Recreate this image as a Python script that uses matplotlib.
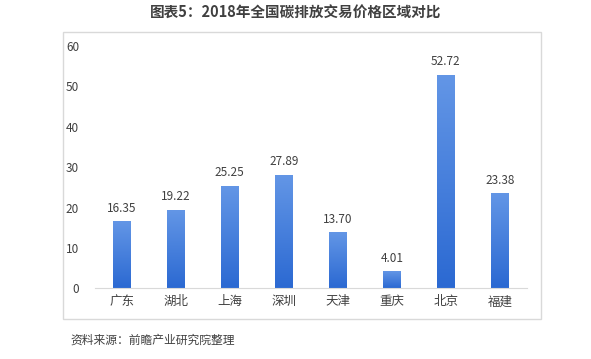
import matplotlib.pyplot as plt
import numpy as np
from matplotlib.colors import LinearSegmentedColormap
from matplotlib.patches import Rectangle

plt.rcParams["font.family"] = ["Noto Sans CJK SC", "DejaVu Sans"]

# -------------------------------------------------
# Data
# -------------------------------------------------

regions = ["广东", "湖北", "上海", "深圳", "天津", "重庆", "北京", "福建"]
prices = [16.35, 19.22, 25.25, 27.89, 13.70, 4.01, 52.72, 23.38]
y_ticks = [0, 10, 20, 30, 40, 50, 60]

title = "图表5：2018年全国碳排放交易价格区域对比"
source = "资料来源：前瞻产业研究院整理"

# -------------------------------------------------
# Figure
# -------------------------------------------------

W, H = 591, 359
fig = plt.figure(figsize=(W / 100, H / 100), dpi=100)

# light frame around the plot
fig.patches.append(
    Rectangle((63 / W, 1 - 319 / H), (541 - 63) / W, (319 - 32) / H,
              transform=fig.transFigure, fill=False, edgecolor="#d9d9d9", linewidth=1)
)

ax = fig.add_axes([94.5 / W, 1 - 288.3 / H, (527 - 94.5) / W, (288.3 - 46) / H])

cmap = LinearSegmentedColormap.from_list("bar", ["#2b69d2", "#6396e6"])
grad = np.linspace(0, 1, 256).reshape(-1, 1)
bar_w = 0.32

x = np.arange(len(regions))
bars = ax.bar(x, prices, width=bar_w, color="none", edgecolor="none")
for b, v in zip(bars, prices):
    x0 = b.get_x()
    ax.imshow(grad, cmap=cmap, origin="lower", aspect="auto",
              extent=(x0, x0 + bar_w, 0, v), zorder=2)
    ax.text(x0 + bar_w / 2, v + 1.8, f"{v:.2f}", ha="center", va="bottom",
            fontsize=8.5, color="#404040")

ax.set_xlim(-0.5, len(regions) - 0.5)
ax.set_ylim(0, 60)

ax.set_xticks(x)
ax.set_xticklabels(regions, fontsize=9, color="#404040")
ax.set_yticks(y_ticks)
ax.set_yticklabels([str(t) for t in y_ticks], fontsize=8.5, color="#404040")
ax.tick_params(axis="both", length=0)
ax.tick_params(axis="y", pad=11)
ax.tick_params(axis="x", pad=5)

for side in ["top", "right", "left"]:
    ax.spines[side].set_visible(False)
ax.spines["bottom"].set_color("#d9d9d9")

fig.text(296 / W, 1 - 13 / H, title, ha="center", va="center",
         fontsize=10.5, fontweight="bold", color="#404040")
fig.text(70 / W, 1 - 340 / H, source, ha="left", va="center",
         fontsize=8.5, style="italic", color="#404040")

fig.savefig("out.png", dpi=100)
